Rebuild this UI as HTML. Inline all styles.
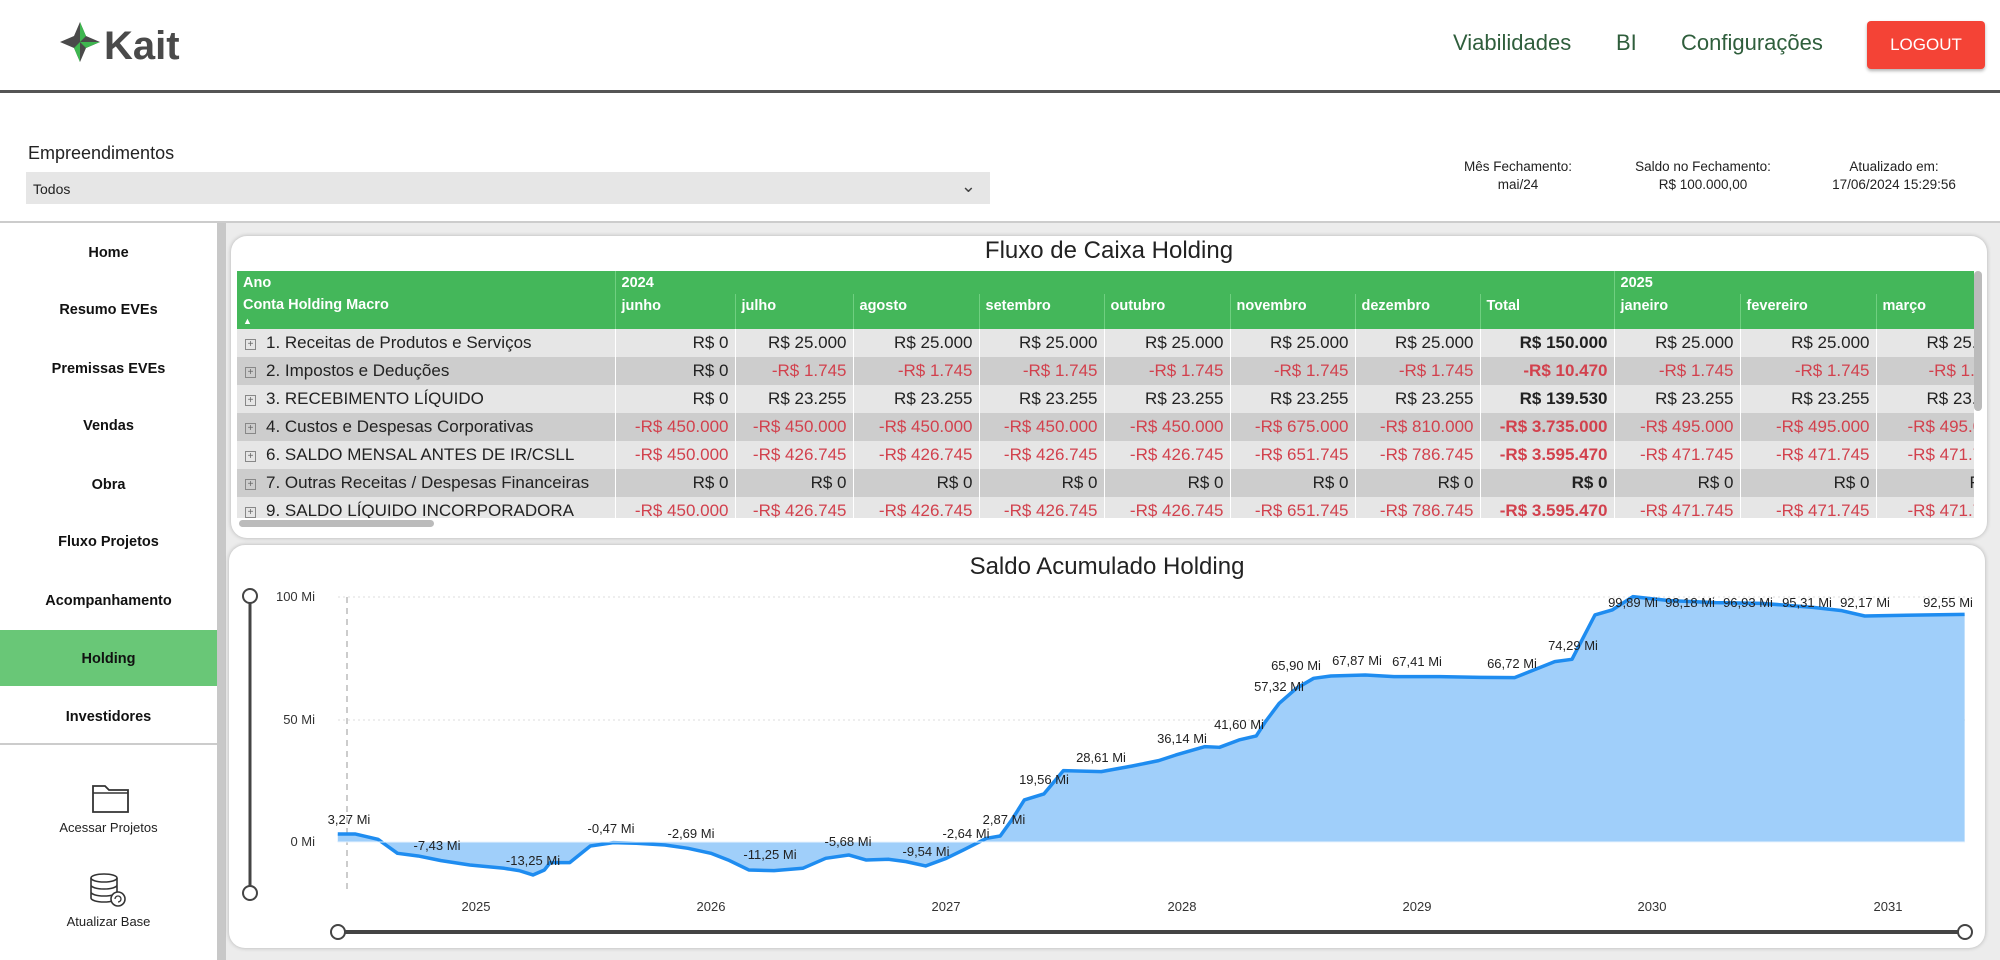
<!DOCTYPE html>
<html><head><meta charset="utf-8"><style>
*{margin:0;padding:0;box-sizing:border-box}
body{width:2000px;height:960px;overflow:hidden;background:#fff;font-family:"Liberation Sans",sans-serif;color:#222;position:relative}
.a{position:absolute}
.nav{font-size:22px;color:#2f5e3c;top:30px}
.side{left:0;width:217px;text-align:center;font-weight:bold;font-size:14.5px;color:#111}
.info{font-size:13.5px;text-align:center;width:200px;line-height:18px;color:#222}
.card{background:#fff;border-radius:16px;box-shadow:0 0 4px rgba(0,0,0,.25)}
table{border-collapse:collapse;table-layout:fixed;font-size:17px}
td{height:28px;padding:0 6px;white-space:nowrap;overflow:hidden;text-align:right;border-right:1px solid #fff}
td.l{text-align:left;padding-left:8px}
tr.d td{background:#e6e6e6}
tr.e td{background:#cdcdcd}
.r{color:#d2414d}
.b{font-weight:bold}
th{background:#44b75a;color:#fff;text-align:left;font-size:14.5px;padding:0 6px;white-space:nowrap;overflow:hidden;border-right:1px solid #6fcf80}
.pm{display:inline-block;width:11px;height:11px;border:1px solid #888;font-size:10px;line-height:9px;text-align:center;color:#666;margin-right:10px;vertical-align:1px}
</style></head><body>
<svg class="a" style="left:60px;top:22px" width="140" height="44" viewBox="0 0 140 44">
<path d="M20 0 L26 14 L40 20 L26 26 L20 40 L14 26 L0 20 L14 14Z" fill="#4a4a4a"/>
<path d="M20 0 L26 14 L20 20Z M40 20 L26 26 L20 20Z M20 40 L14 26 L20 20Z" fill="#3fb650"/>
<text x="44" y="37" font-family="Liberation Sans" font-size="40" fill="#4a4a4a" font-weight="bold">Kait</text>
</svg>
<div class="a nav" style="left:1453px">Viabilidades</div>
<div class="a nav" style="left:1616px">BI</div>
<div class="a nav" style="left:1681px">Configurações</div>
<div class="a" style="left:1867px;top:21px;width:118px;height:48px;background:#f44336;color:#fff;border-radius:4px;box-shadow:0 2px 3px rgba(0,0,0,.3);font-size:17px;text-align:center;line-height:48px">LOGOUT</div>
<div class="a" style="left:0;top:90px;width:2000px;height:3px;background:#555"></div>
<div class="a" style="left:28px;top:143px;font-size:18px">Empreendimentos</div>
<div class="a" style="left:26px;top:172px;width:964px;height:32px;background:#e6e6e6;font-size:14px;padding:9px 7px">Todos<span style="position:absolute;right:14px;top:4px;font-size:18px;color:#444">&#8964;</span></div>
<div class="a info" style="left:1418px;top:158px">Mês Fechamento:<br>mai/24</div>
<div class="a info" style="left:1603px;top:158px">Saldo no Fechamento:<br>R$ 100.000,00</div>
<div class="a info" style="left:1794px;top:158px">Atualizado em:<br>17/06/2024 15:29:56</div>
<div class="a" style="left:0;top:221px;width:2000px;height:2px;background:#ccc"></div>
<div class="a" style="left:217px;top:223px;width:1783px;height:737px;background:#ececec"></div>
<div class="a" style="left:217px;top:223px;width:9px;height:737px;background:#c8c8c8"></div>
<div class="a side" style="top:245px">Home</div>
<div class="a side" style="top:302px">Resumo EVEs</div>
<div class="a side" style="top:361px">Premissas EVEs</div>
<div class="a side" style="top:418px">Vendas</div>
<div class="a side" style="top:477px">Obra</div>
<div class="a side" style="top:534px">Fluxo Projetos</div>
<div class="a side" style="top:593px">Acompanhamento</div>
<div class="a" style="left:0;top:630px;width:217px;height:56px;background:#69c777"></div>
<div class="a side" style="top:651px">Holding</div>
<div class="a side" style="top:709px">Investidores</div>
<div class="a" style="left:0;top:743px;width:217px;height:2px;background:#ccc"></div>
<svg class="a" style="left:91px;top:782px" width="40" height="32"><path d="M2 4 H14 L18 8 H37 V30 H2Z" fill="none" stroke="#333" stroke-width="1.8"/><path d="M2 11 H37" stroke="#333" stroke-width="1.5"/></svg>
<div class="a" style="left:0;top:820px;width:217px;text-align:center;font-size:13px">Acessar Projetos</div>
<svg class="a" style="left:86px;top:872px" width="44" height="36"><ellipse cx="18" cy="6" rx="13" ry="4" fill="none" stroke="#333" stroke-width="1.6"/><path d="M5 6 V26 A13 4 0 0 0 31 26 V6 M5 13 A13 4 0 0 0 31 13 M5 20 A13 4 0 0 0 31 20" fill="none" stroke="#333" stroke-width="1.6"/><circle cx="32" cy="27" r="7" fill="#fff" stroke="#333" stroke-width="1.6"/><path d="M29 27 A3 3 0 1 1 32 30" fill="none" stroke="#333" stroke-width="1.3"/></svg>
<div class="a" style="left:0;top:914px;width:217px;text-align:center;font-size:13px">Atualizar Base</div>
<div class="a card" style="left:231px;top:236px;width:1756px;height:302px"></div>
<div class="a" style="left:231px;top:237px;width:1756px;text-align:center;font-size:24px;color:#222">Fluxo de Caixa Holding</div>
<div class="a" style="left:237px;top:271px;width:1737px;height:247px;overflow:hidden">
<table style="width:1860px">
<colgroup><col style="width:378px"><col style="width:120px"><col style="width:118px"><col style="width:126px"><col style="width:125px"><col style="width:126px"><col style="width:125px"><col style="width:125px"><col style="width:134px"><col style="width:126px"><col style="width:136px"><col style="width:221px"></colgroup>
<tr style="height:23px"><th>Ano</th><th colspan="8" style="border-right:1px solid #6fcf80">2024</th><th colspan="3">2025</th></tr>
<tr style="height:33px"><th style="vertical-align:top;padding-top:4px;line-height:15px">Conta Holding Macro<br><span style="font-size:9px">&#9650;</span></th><th style="vertical-align:top;padding-top:4px">junho</th><th style="vertical-align:top;padding-top:4px">julho</th><th style="vertical-align:top;padding-top:4px">agosto</th><th style="vertical-align:top;padding-top:4px">setembro</th><th style="vertical-align:top;padding-top:4px">outubro</th><th style="vertical-align:top;padding-top:4px">novembro</th><th style="vertical-align:top;padding-top:4px">dezembro</th><th style="vertical-align:top;padding-top:4px">Total</th><th style="vertical-align:top;padding-top:4px">janeiro</th><th style="vertical-align:top;padding-top:4px">fevereiro</th><th style="vertical-align:top;padding-top:4px">março</th></tr>
<tr class="d"><td class="l"><span class="pm">+</span>1. Receitas de Produtos e Serviços</td><td>R$ 0</td><td>R$ 25.000</td><td>R$ 25.000</td><td>R$ 25.000</td><td>R$ 25.000</td><td>R$ 25.000</td><td>R$ 25.000</td><td class="b">R$ 150.000</td><td>R$ 25.000</td><td>R$ 25.000</td><td style="text-align:left;padding-left:50px">R$ 25.000</td></tr>
<tr class="e"><td class="l"><span class="pm">+</span>2. Impostos e Deduções</td><td>R$ 0</td><td class="r">-R$ 1.745</td><td class="r">-R$ 1.745</td><td class="r">-R$ 1.745</td><td class="r">-R$ 1.745</td><td class="r">-R$ 1.745</td><td class="r">-R$ 1.745</td><td class="r b">-R$ 10.470</td><td class="r">-R$ 1.745</td><td class="r">-R$ 1.745</td><td class="r" style="text-align:left;padding-left:52px">-R$ 1.745</td></tr>
<tr class="d"><td class="l"><span class="pm">+</span>3. RECEBIMENTO LÍQUIDO</td><td>R$ 0</td><td>R$ 23.255</td><td>R$ 23.255</td><td>R$ 23.255</td><td>R$ 23.255</td><td>R$ 23.255</td><td>R$ 23.255</td><td class="b">R$ 139.530</td><td>R$ 23.255</td><td>R$ 23.255</td><td style="text-align:left;padding-left:50px">R$ 23.255</td></tr>
<tr class="e"><td class="l"><span class="pm">+</span>4. Custos e Despesas Corporativas</td><td class="r">-R$ 450.000</td><td class="r">-R$ 450.000</td><td class="r">-R$ 450.000</td><td class="r">-R$ 450.000</td><td class="r">-R$ 450.000</td><td class="r">-R$ 675.000</td><td class="r">-R$ 810.000</td><td class="r b">-R$ 3.735.000</td><td class="r">-R$ 495.000</td><td class="r">-R$ 495.000</td><td class="r" style="text-align:left;padding-left:31px">-R$ 495.000</td></tr>
<tr class="d"><td class="l"><span class="pm">+</span>6. SALDO MENSAL ANTES DE IR/CSLL</td><td class="r">-R$ 450.000</td><td class="r">-R$ 426.745</td><td class="r">-R$ 426.745</td><td class="r">-R$ 426.745</td><td class="r">-R$ 426.745</td><td class="r">-R$ 651.745</td><td class="r">-R$ 786.745</td><td class="r b">-R$ 3.595.470</td><td class="r">-R$ 471.745</td><td class="r">-R$ 471.745</td><td class="r" style="text-align:left;padding-left:31px">-R$ 471.745</td></tr>
<tr class="e"><td class="l"><span class="pm">+</span>7. Outras Receitas / Despesas Financeiras</td><td>R$ 0</td><td>R$ 0</td><td>R$ 0</td><td>R$ 0</td><td>R$ 0</td><td>R$ 0</td><td>R$ 0</td><td class="b">R$ 0</td><td>R$ 0</td><td>R$ 0</td><td style="text-align:left;padding-left:93px">R$ 0</td></tr>
<tr class="d"><td class="l"><span class="pm">+</span>9. SALDO LÍQUIDO INCORPORADORA</td><td class="r">-R$ 450.000</td><td class="r">-R$ 426.745</td><td class="r">-R$ 426.745</td><td class="r">-R$ 426.745</td><td class="r">-R$ 426.745</td><td class="r">-R$ 651.745</td><td class="r">-R$ 786.745</td><td class="r b">-R$ 3.595.470</td><td class="r">-R$ 471.745</td><td class="r">-R$ 471.745</td><td class="r" style="text-align:left;padding-left:31px">-R$ 471.745</td></tr>
</table></div>
<div class="a" style="left:239px;top:520px;width:195px;height:7px;border-radius:4px;background:#bbb"></div>
<div class="a" style="left:1974px;top:271px;width:8px;height:140px;border-radius:4px;background:#bbb"></div>
<div class="a card" style="left:229px;top:545px;width:1756px;height:403px"></div>
<div class="a" style="left:229px;top:553px;width:1756px;text-align:center;font-size:24px;color:#222">Saldo Acumulado Holding</div>
<svg class="a" style="left:0;top:0" width="2000" height="960" font-family="Liberation Sans" font-size="13">
<g stroke="#ddd" stroke-dasharray="2,3"><line x1="338" x2="1965" y1="597" y2="597"/><line x1="338" x2="1965" y1="720" y2="720"/></g>
<line x1="347" x2="347" y1="597" y2="892" stroke="#ccc" stroke-width="2" stroke-dasharray="6,5"/>
<g font-size="13" fill="#333" text-anchor="end"><text x="315" y="601">100 Mi</text><text x="315" y="724">50 Mi</text><text x="315" y="846">0 Mi</text></g>
<g transform="translate(200,540) scale(1.1481,0.3333)">
<path d="M120,882 L135,882 L155,898 L172,940 L190,948 L210,962 L235,975 L265,985 L278,992 L290,1005 L300,990 L305,968 L322,968 L340,918 L360,908 L380,910 L405,915 L425,925 L445,940 L460,960 L478,990 L500,992 L525,985 L545,955 L565,945 L580,960 L600,958 L615,965 L632,978 L650,955 L665,930 L685,895 L697,888 L707,840 L718,780 L735,762 L752,692 L785,695 L812,678 L835,662 L850,645 L875,620 L888,622 L905,600 L920,588 L928,545 L940,490 L955,445 L970,415 L985,408 L1015,405 L1040,410 L1080,410 L1115,412 L1145,413 L1180,365 L1195,358 L1215,225 L1230,210 L1248,170 L1280,182 L1320,188 L1360,190 L1405,202 L1430,212 L1450,228 L1480,226 L1537,223 L1537,907 L120,907Z" fill="#a0cffa" stroke="none"/>
<path d="M120,882 L135,882 L155,898 L172,940 L190,948 L210,962 L235,975 L265,985 L278,992 L290,1005 L300,990 L305,968 L322,968 L340,918 L360,908 L380,910 L405,915 L425,925 L445,940 L460,960 L478,990 L500,992 L525,985 L545,955 L565,945 L580,960 L600,958 L615,965 L632,978 L650,955 L665,930 L685,895 L697,888 L707,840 L718,780 L735,762 L752,692 L785,695 L812,678 L835,662 L850,645 L875,620 L888,622 L905,600 L920,588 L928,545 L940,490 L955,445 L970,415 L985,408 L1015,405 L1040,410 L1080,410 L1115,412 L1145,413 L1180,365 L1195,358 L1215,225 L1230,210 L1248,170 L1280,182 L1320,188 L1360,190 L1405,202 L1430,212 L1450,228 L1480,226 L1537,223" fill="none" stroke="#1e8cf0" stroke-width="3.5" vector-effect="non-scaling-stroke" stroke-linejoin="round"/>
</g>
<line x1="338" x2="1965" y1="842" y2="842" stroke="#e8f3fd" stroke-width="1"/>
<g fill="#222" text-anchor="middle">
<text x="349" y="824">3,27 Mi</text><text x="437" y="850">-7,43 Mi</text><text x="533" y="865">-13,25 Mi</text><text x="611" y="833">-0,47 Mi</text><text x="691" y="838">-2,69 Mi</text><text x="770" y="859">-11,25 Mi</text><text x="848" y="846">-5,68 Mi</text><text x="926" y="856">-9,54 Mi</text><text x="966" y="838">-2,64 Mi</text><text x="1004" y="824">2,87 Mi</text><text x="1044" y="784">19,56 Mi</text><text x="1101" y="762">28,61 Mi</text><text x="1182" y="743">36,14 Mi</text><text x="1239" y="729">41,60 Mi</text><text x="1279" y="691">57,32 Mi</text><text x="1296" y="670">65,90 Mi</text><text x="1357" y="665">67,87 Mi</text><text x="1417" y="666">67,41 Mi</text><text x="1512" y="668">66,72 Mi</text><text x="1573" y="650">74,29 Mi</text><text x="1633" y="607">99,89 Mi</text><text x="1690" y="607">98,18 Mi</text><text x="1748" y="607">96,93 Mi</text><text x="1807" y="607">95,31 Mi</text><text x="1865" y="607">92,17 Mi</text><text x="1948" y="607">92,55 Mi</text>
</g>
<g fill="#333" text-anchor="middle"><text x="476" y="911">2025</text><text x="711" y="911">2026</text><text x="946" y="911">2027</text><text x="1182" y="911">2028</text><text x="1417" y="911">2029</text><text x="1652" y="911">2030</text><text x="1888" y="911">2031</text></g>
<line x1="250" x2="250" y1="596" y2="893" stroke="#444" stroke-width="3"/>
<circle cx="250" cy="596" r="7" fill="#fff" stroke="#444" stroke-width="2"/><circle cx="250" cy="893" r="7" fill="#fff" stroke="#444" stroke-width="2"/>
<line x1="338" x2="1965" y1="932" y2="932" stroke="#444" stroke-width="4"/>
<circle cx="338" cy="932" r="7" fill="#fff" stroke="#444" stroke-width="2"/><circle cx="1965" cy="932" r="7" fill="#fff" stroke="#444" stroke-width="2"/>
</svg>
</body></html>
